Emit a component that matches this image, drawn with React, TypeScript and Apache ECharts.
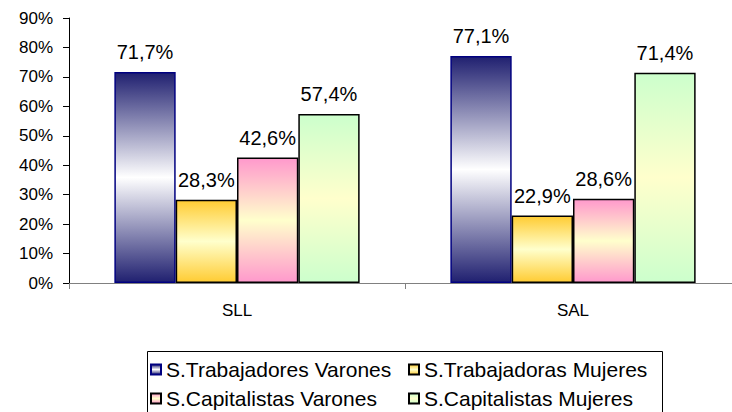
import React, { useEffect, useRef } from "react";
import * as echarts from "echarts";

const categories = ["SLL", "SAL"];
const seriesNames = [
  "S.Trabajadores Varones",
  "S.Trabajadoras Mujeres",
  "S.Capitalistas Varones",
  "S.Capitalistas Mujeres",
];
const trabajadoresVarones = [71.7, 77.1];
const trabajadorasMujeres = [28.3, 22.9];
const capitalistasVarones = [42.6, 28.6];
const capitalistasMujeres = [57.4, 71.4];
const yTicks = { min: 0, max: 90, interval: 10 };

const FONT = "'Liberation Sans', Arial, sans-serif";

function grad(edge: string, mid: string) {
  return new echarts.graphic.LinearGradient(0, 0, 0, 1, [
    { offset: 0, color: edge },
    { offset: 0.5, color: mid },
    { offset: 1, color: edge },
  ]);
}

export default function App() {
  const ref = useRef<HTMLDivElement>(null);
  useEffect(() => {
    if (!ref.current) return;
    const chart = echarts.init(ref.current, null, { renderer: "svg" });
    const values = [trabajadoresVarones, trabajadorasMujeres, capitalistasVarones, capitalistasMujeres];
    const styles = [
      { color: grad("#202070", "#ffffff"), borderColor: "#000080" },
      { color: grad("#ffcc33", "#ffffcc"), borderColor: "#000000" },
      { color: grad("#ff99cc", "#ffffcc"), borderColor: "#000000" },
      { color: grad("#ccffcc", "#ffffcc"), borderColor: "#000000" },
    ];
    const series = values.map((v, i) => ({
      type: "bar",
      name: seriesNames[i],
      data: v,
      barGap: "0%",
      barCategoryGap: "27%",
      itemStyle: { ...styles[i], borderWidth: 1.5 },
      label: {
        show: true,
        position: "top",
        distance: 10,
        fontFamily: FONT,
        fontSize: 20,
        color: "#000",
        formatter: (p: any) => p.value.toFixed(1).replace(".", ",") + "%",
      },
    }));
    const legendCommon = {
      orient: "vertical",
      top: 359,
      padding: 0,
      itemWidth: 10,
      itemHeight: 10,
      itemGap: 8,
      icon: "rect",
      textStyle: { fontFamily: FONT, fontSize: 21, color: "#000", lineHeight: 20 },
      selectedMode: false,
    };
    chart.setOption({
      animation: false,
      backgroundColor: "#fff",
      grid: { left: 69, top: 18, width: 672, height: 265, containLabel: false, outerBoundsMode: "none" },
      xAxis: {
        type: "category",
        data: categories,
        axisLine: { lineStyle: { color: "#808080", width: 1 } },
        axisTick: { show: true, length: 6, lineStyle: { color: "#808080" } },
        axisLabel: { fontFamily: FONT, fontSize: 17, color: "#000", margin: 19 },
      },
      yAxis: {
        type: "value",
        min: yTicks.min,
        max: yTicks.max,
        interval: yTicks.interval,
        axisLine: { show: true, lineStyle: { color: "#000", width: 1 } },
        axisTick: { show: true, length: 6, lineStyle: { color: "#000" } },
        splitLine: { show: false },
        axisLabel: { fontFamily: FONT, fontSize: 17, color: "#000", margin: 16, formatter: "{value}%" },
      },
      legend: [
        { ...legendCommon, left: 150, data: [seriesNames[0], seriesNames[2]] },
        { ...legendCommon, left: 408, data: [seriesNames[1], seriesNames[3]] },
      ],
      graphic: [
        {
          type: "rect",
          left: 145,
          top: 349,
          shape: { width: 515, height: 80 },
          style: { fill: "none", stroke: "#000", lineWidth: 1 },
          z: 0,
        },
      ],
      series,
    });
    return () => chart.dispose();
  }, []);
  return <div ref={ref} style={{ position: "fixed", left: 0, top: 0, width: 732, height: 412 }} />;
}
